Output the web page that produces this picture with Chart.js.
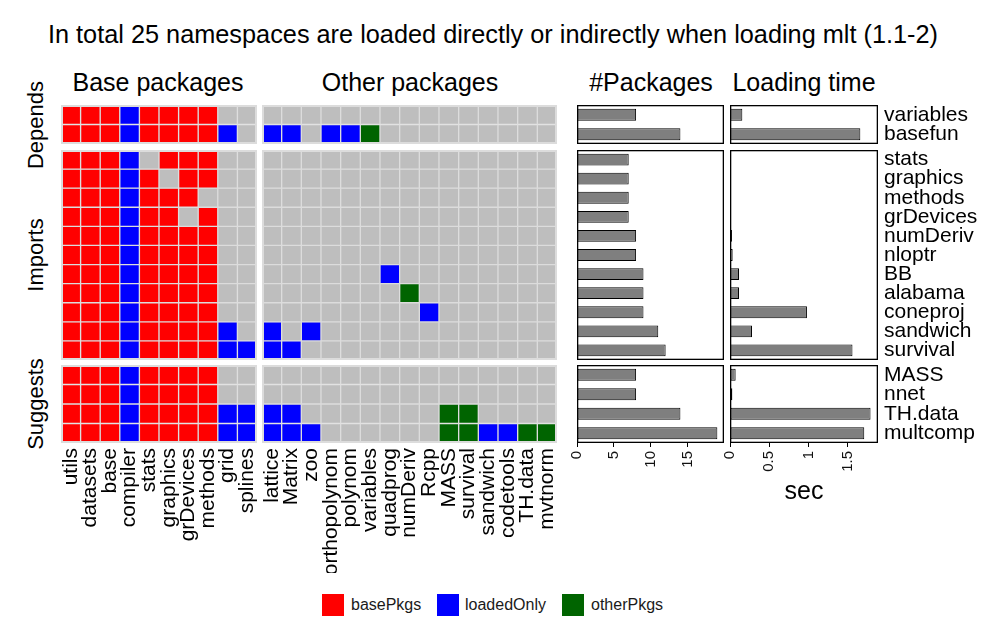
<!DOCTYPE html>
<html>
<head>
<meta charset="utf-8">
<script src="https://cdn.jsdelivr.net/npm/chart.js@4.4.0/dist/chart.umd.min.js"></script>
<style>
  body { margin: 0; background: #fff; }
  #page { position: relative; width: 987px; height: 628px; overflow: hidden; background: #fff;
          font-family: "Liberation Sans", Arial, sans-serif; color: #000; }
  .txt { position: absolute; white-space: nowrap; line-height: 1; transform: translate(-50%, -50%); }
  .rot { transform: translate(-50%, -50%) rotate(-90deg); }
  .key { position: absolute; width: 22px; height: 22px; top: 594px; }
  .keytxt { position: absolute; top: 605px; font-size: 16px; line-height: 1; transform: translateY(-50%); color: #1a1a1a; }
</style>
</head>
<body>
<div id="page">
  <div class="txt" style="left:493px;top:35px;font-size:25.3px">In total 25 namespaces are loaded directly or indirectly when loading mlt (1.1-2)</div>
  <div class="txt" style="left:158px;top:82px;font-size:25px">Base packages</div>
  <div class="txt" style="left:410px;top:82px;font-size:25px">Other packages</div>
  <div class="txt" style="left:651px;top:82px;font-size:25px">#Packages</div>
  <div class="txt" style="left:804px;top:82px;font-size:25px">Loading time</div>
  <div class="txt rot" style="left:36px;top:125px;font-size:22px">Depends</div>
  <div class="txt rot" style="left:36px;top:255px;font-size:22px">Imports</div>
  <div class="txt rot" style="left:36px;top:404px;font-size:22px">Suggests</div>

  <div class="key" style="left:322px;background:#ff0000"></div>
  <div class="keytxt" style="left:351px">basePkgs</div>
  <div class="key" style="left:437px;background:#0000ff"></div>
  <div class="keytxt" style="left:465px">loadedOnly</div>
  <div class="key" style="left:562px;background:#006400"></div>
  <div class="keytxt" style="left:591px">otherPkgs</div>
</div>

<script>
// columns of the two heat maps
const basePkgs = ["utils", "datasets", "base", "compiler", "stats", "graphics", "grDevices", "methods", "grid", "splines"];
const otherPkgs = ["lattice", "Matrix", "zoo", "orthopolynom", "polynom", "variables", "quadprog", "numDeriv",
                   "Rcpp", "MASS", "survival", "sandwich", "codetools", "TH.data", "mvtnorm"];

// rows, by kind of dependency
const dependsPkgs = ["variables", "basefun"];
const importsPkgs = ["stats", "graphics", "methods", "grDevices", "numDeriv", "nloptr", "BB", "alabama",
                     "coneproj", "sandwich", "survival"];
const suggestsPkgs = ["MASS", "nnet", "TH.data", "multcomp"];

// b = basePkgs, l = loadedOnly, o = otherPkgs, - = not loaded  (one string per row, rows in order above)
const baseStatus = [
  "bbblbbbb--", "bbblbbbbl-",
  "bbbl-bbb--", "bbblb-bb--", "bbblbbb---", "bbblbb-b--", "bbblbbbb--", "bbblbbbb--",
  "bbblbbbb--", "bbblbbbb--", "bbblbbbb--", "bbblbbbbl-", "bbblbbbbll",
  "bbblbbbb--", "bbblbbbb--", "bbblbbbbll", "bbblbbbbll"
];
const otherStatus = [
  "---------------", "ll-llo---------",
  "---------------", "---------------", "---------------", "---------------", "---------------", "---------------",
  "------l--------", "-------o-------", "--------l------", "l-l------------", "ll-------------",
  "---------------", "---------------", "ll-------oo----", "lll------oolloo"
];

// bar values, same row order
const nPackages = [8, 14, 7, 7, 7, 7, 8, 8, 9, 9, 9, 11, 12, 8, 8, 14, 19];
const loadSeconds = [0.157, 1.66, 0.004, 0.004, 0.004, 0.004, 0.025, 0.034, 0.115, 0.115, 0.98, 0.28, 1.56,
                     0.072, 0.03, 1.79, 1.71];
const pkgTicks = [0, 5, 10, 15];
const secTicks = [0, 0.5, 1, 1.5];

const FONT = "'Liberation Sans', Arial, sans-serif";
const fillOf = { b: "#ff0000", l: "#0000ff", o: "#006400", "-": "#bebebe" };
const page = document.getElementById("page");

function addCanvas(left, top, w, h) {
  const div = document.createElement("div");
  div.style.cssText = `position:absolute;left:${left}px;top:${top}px;width:${w}px;height:${h}px`;
  const c = document.createElement("canvas");
  c.width = w;
  c.height = h;
  div.appendChild(c);
  page.appendChild(div);
  return c;
}

// light frame round each heat map panel
const heatFrame = {
  id: "heatFrame",
  afterDraw(chart) {
    const { ctx, chartArea: a } = chart;
    ctx.save();
    ctx.strokeStyle = "#dcdcdc";
    ctx.lineWidth = 2;
    ctx.strokeRect(a.left + 1, a.top + 1, a.right - a.left - 2, a.bottom - a.top - 2);
    ctx.restore();
  }
};

// black box round each bar panel
const barFrame = {
  id: "barFrame",
  afterDraw(chart) {
    const { ctx, chartArea: a } = chart;
    ctx.save();
    ctx.strokeStyle = "#000";
    ctx.lineWidth = 1.3;
    ctx.strokeRect(a.left + 0.65, a.top + 0.65, a.right - a.left - 1.3, a.bottom - a.top - 1.3);
    ctx.restore();
  }
};

function heatPanel(cols, rows, status, area, withLabels) {
  const axisH = withLabels ? 130 : 0;
  const cv = addCanvas(area.left, area.top, area.w, area.h + axisH);
  new Chart(cv, {
    type: "bar",
    data: {
      labels: cols,
      datasets: rows.map((r, i) => ({
        label: r,
        data: cols.map(() => 1),
        backgroundColor: status[i].split("").map(k => fillOf[k]),
        borderColor: "#dcdcdc",
        borderWidth: 1,
        borderSkipped: false,
        barPercentage: 1,
        categoryPercentage: 1
      }))
    },
    options: {
      responsive: false,
      animation: false,
      layout: { padding: 0 },
      plugins: { legend: { display: false }, tooltip: { enabled: false } },
      scales: {
        x: {
          stacked: true,
          display: withLabels,
          grid: { display: false, drawTicks: false },
          border: { display: false },
          ticks: { autoSkip: false, minRotation: 90, maxRotation: 90, padding: 5, color: "#000",
                   font: { family: FONT, size: 21 } },
          afterFit: s => { s.height = axisH; s.paddingLeft = 0; s.paddingRight = 0; }
        },
        y: { stacked: true, reverse: true, min: 0, max: rows.length, display: false }
      }
    },
    plugins: [heatFrame]
  });
}

function barPanel(rows, values, xmax, ticks, area, opt) {
  const axisH = opt.xAxis ? (opt.title ? 64 : 40) : 0;
  const yW = opt.yAxis ? 110 : 0;
  const padL = 12; // room for the first rotated tick label
  const cv = addCanvas(area.left - padL, area.top, area.w + yW + padL, area.h + axisH);
  new Chart(cv, {
    type: "bar",
    data: {
      labels: rows,
      datasets: [{
        data: values,
        backgroundColor: "#7f7f7f",
        borderColor: "#000",
        borderWidth: 1,
        borderSkipped: false,
        barPercentage: 0.62,
        categoryPercentage: 1
      }]
    },
    options: {
      indexAxis: "y",
      responsive: false,
      animation: false,
      layout: { padding: { left: padL, right: 0, top: 0, bottom: 0 } },
      plugins: { legend: { display: false }, tooltip: { enabled: false } },
      scales: {
        x: {
          type: "linear",
          min: 0,
          max: xmax,
          display: opt.xAxis,
          grid: { drawOnChartArea: false, drawTicks: true, tickLength: 4, color: "#000" },
          border: { display: false },
          ticks: { minRotation: 90, maxRotation: 90, padding: 4, color: "#111",
                   font: { family: FONT, size: 15 }, callback: v => String(v) },
          afterBuildTicks: s => { s.ticks = ticks.map(v => ({ value: v })); },
          title: { display: !!opt.title, text: opt.title || "", color: "#000", padding: 0,
                   font: { family: FONT, size: 25 } },
          afterFit: s => { s.height = axisH; s.paddingLeft = 0; s.paddingRight = 0; }
        },
        y: {
          position: "right",
          display: opt.yAxis,
          grid: { display: false, drawTicks: false },
          border: { display: false },
          ticks: { autoSkip: false, padding: 6, color: "#000", font: { family: FONT, size: 21 } },
          afterFit: s => { s.width = yW; s.paddingTop = 0; s.paddingBottom = 0; }
        }
      }
    },
    plugins: [barFrame]
  });
}

// panel boxes (row groups)
const groups = [
  { rows: dependsPkgs, top: 105, h: 39 },
  { rows: importsPkgs, top: 150, h: 210 },
  { rows: suggestsPkgs, top: 365, h: 78 }
];

let start = 0;
groups.forEach((g, gi) => {
  const end = start + g.rows.length;
  const last = gi === groups.length - 1;
  heatPanel(basePkgs, g.rows, baseStatus.slice(start, end), { left: 61, top: g.top, w: 196, h: g.h }, last);
  heatPanel(otherPkgs, g.rows, otherStatus.slice(start, end), { left: 262, top: g.top, w: 295, h: g.h }, last);
  barPanel(g.rows, nPackages.slice(start, end), 19.9, pkgTicks,
           { left: 577, top: g.top, w: 147, h: g.h }, { xAxis: last, yAxis: false });
  barPanel(g.rows, loadSeconds.slice(start, end), 1.885, secTicks,
           { left: 730, top: g.top, w: 148, h: g.h }, { xAxis: last, yAxis: true, title: last ? "sec" : "" });
  start = end;
});
</script>
</body>
</html>
